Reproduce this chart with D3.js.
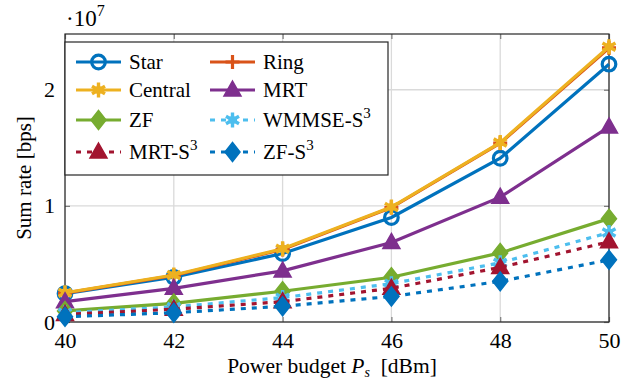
<!DOCTYPE html>
<html>
<head>
<meta charset="utf-8">
<script src="https://cdn.jsdelivr.net/npm/d3@7/dist/d3.min.js"></script>
<style>
  html, body { margin: 0; padding: 0; background: #fff; }
  svg { display: block; }
</style>
</head>
<body>
<svg id="chart" width="632" height="379"></svg>
<script>
// Transmit power budget in dBm
const power = [40, 42, 44, 46, 48, 50];

// Sum rate in units of 1e7 bps
const star    = [0.245, 0.385, 0.59, 0.90, 1.41, 2.22];
const ring    = [0.248, 0.400, 0.625, 0.985, 1.54, 2.36];
const central = [0.252, 0.405, 0.63, 0.99, 1.545, 2.37];
const mrt     = [0.175, 0.29, 0.44, 0.685, 1.075, 1.68];
const zf      = [0.095, 0.16, 0.265, 0.385, 0.595, 0.89];
const wmmseS3 = [0.08, 0.13, 0.21, 0.33, 0.51, 0.77];
const mrtS3   = [0.065, 0.11, 0.175, 0.29, 0.47, 0.69];
const zfS3    = [0.045, 0.08, 0.135, 0.22, 0.35, 0.535];

const xTicks = [40, 42, 44, 46, 48, 50];
const yTicks = [0, 1, 2];
const scaleExp = 7;

const SERIF = "'Liberation Serif', 'Times New Roman', Tinos, 'Nimbus Roman', serif";

const series = [
  { name: "Star",     values: star,    color: "#0072BD", marker: "circle",   dashed: false },
  { name: "Ring",     values: ring,    color: "#D95319", marker: "plus",     dashed: false },
  { name: "Central",  values: central, color: "#EDB120", marker: "asterisk", dashed: false },
  { name: "MRT",      values: mrt,     color: "#7E2F8E", marker: "triangle", dashed: false },
  { name: "ZF",       values: zf,      color: "#77AC30", marker: "diamond",  dashed: false },
  { name: "WMMSE-S",  sup: "3", values: wmmseS3, color: "#4DBEEE", marker: "asterisk", dashed: true },
  { name: "MRT-S",    sup: "3", values: mrtS3,   color: "#A2142F", marker: "triangle", dashed: true },
  { name: "ZF-S",     sup: "3", values: zfS3,    color: "#0072BD", marker: "diamond",  dashed: true }
];

const svg = d3.select("#chart");
const m = { left: 65, right: 609, top: 34, bottom: 322 };

const x = d3.scaleLinear().domain([40, 50]).range([m.left, m.right]);
const y = d3.scaleLinear().domain([0, 2.48]).range([m.bottom, m.top]);

// grid
const grid = svg.append("g");
grid.selectAll(".gx").data(xTicks).join("line")
  .attr("x1", d => x(d)).attr("x2", d => x(d))
  .attr("y1", m.top).attr("y2", m.bottom)
  .attr("stroke", "#dadada").attr("stroke-width", 1.3);
grid.selectAll(".gy").data(yTicks).join("line")
  .attr("x1", m.left).attr("x2", m.right)
  .attr("y1", d => y(d)).attr("y2", d => y(d))
  .attr("stroke", "#dadada").attr("stroke-width", 1.3);

// axes with inward ticks
const xAxisB = d3.axisBottom(x).tickValues(xTicks).tickSizeInner(-5).tickSizeOuter(0).tickPadding(10);
const xAxisT = d3.axisTop(x).tickValues(xTicks).tickSizeInner(-5).tickSizeOuter(0).tickFormat("");
const yAxisL = d3.axisLeft(y).tickValues(yTicks).tickSizeInner(-5).tickSizeOuter(0).tickPadding(10).tickFormat(d3.format("d"));
const yAxisR = d3.axisRight(y).tickValues(yTicks).tickSizeInner(-5).tickSizeOuter(0).tickFormat("");

function styleAxis(g) {
  g.attr("font-family", null).attr("font-size", null);
  g.select(".domain").remove();
  g.selectAll(".tick line").attr("stroke", "#7a7a7a").attr("stroke-width", 1.2);
  g.selectAll(".tick text")
    .attr("font-family", SERIF).attr("font-size", 22).attr("fill", "#000");
}
svg.append("g").attr("transform", `translate(0,${m.bottom})`).call(xAxisB).call(styleAxis);
svg.append("g").attr("transform", `translate(0,${m.top})`).call(xAxisT).call(styleAxis);
svg.append("g").attr("transform", `translate(${m.left},0)`).call(yAxisL).call(styleAxis);
svg.append("g").attr("transform", `translate(${m.right},0)`).call(yAxisR).call(styleAxis);

// frame
svg.append("rect")
  .attr("x", m.left).attr("y", m.top)
  .attr("width", m.right - m.left).attr("height", m.bottom - m.top)
  .attr("fill", "none").attr("stroke", "#262626").attr("stroke-width", 1.2);

// marker drawing
function drawMarker(g, type, color, cx, cy) {
  const mk = g.append("g").attr("transform", `translate(${cx},${cy})`);
  if (type === "circle") {
    mk.append("circle").attr("r", 6.8).attr("fill", "none").attr("stroke", color).attr("stroke-width", 3.2);
  } else if (type === "plus") {
    mk.append("path").attr("d", "M-7,0H7M0,-7V7").attr("stroke", color).attr("stroke-width", 3.2);
  } else if (type === "asterisk") {
    const r = 7.5;
    let d = "";
    [90, 30, 150].forEach(a => {
      const rad = a * Math.PI / 180;
      const dx = r * Math.cos(rad), dy = r * Math.sin(rad);
      d += `M${-dx},${-dy}L${dx},${dy}`;
    });
    mk.append("path").attr("d", d).attr("stroke", color).attr("stroke-width", 3.4);
    mk.append("circle").attr("r", 4).attr("fill", color);
  } else if (type === "triangle") {
    mk.append("path").attr("d", "M0,-9L8.5,6L-8.5,6Z").attr("fill", color).attr("stroke", color).attr("stroke-width", 1.5);
  } else if (type === "diamond") {
    mk.append("path").attr("d", "M0,-9.5L7.5,0L0,9.5L-7.5,0Z").attr("fill", color).attr("stroke", color).attr("stroke-width", 1.5);
  }
}

// series
const line = d3.line().x((d, i) => x(power[i])).y(d => y(d));
const plot = svg.append("g");
series.forEach(s => {
  const g = plot.append("g");
  g.append("path").datum(s.values)
    .attr("d", line)
    .attr("fill", "none")
    .attr("stroke", s.color)
    .attr("stroke-width", 3.2)
    .attr("stroke-dasharray", s.dashed ? "5,6" : null);
  s.values.forEach((v, i) => drawMarker(g, s.marker, s.color, x(power[i]), y(v)));
});

// legend (two columns, filled row by row)
const lg = svg.append("g");
lg.append("rect").attr("x", 65).attr("y", 42).attr("width", 323).attr("height", 133)
  .attr("fill", "#fff").attr("stroke", "#262626").attr("stroke-width", 1.2);
const legendRows = [62, 90, 120, 152];
const legendCols = [76, 210];
const legendOrder = ["Star", "Ring", "Central", "MRT", "ZF", "WMMSE-S", "MRT-S", "ZF-S"];
series.forEach(s => {
  const k = legendOrder.indexOf(s.name);
  const row = Math.floor(k / 2), col = k % 2;
  const lx = legendCols[col], ly = legendRows[row];
  const g = lg.append("g");
  g.append("line").attr("x1", lx).attr("x2", lx + 45).attr("y1", ly).attr("y2", ly)
    .attr("stroke", s.color).attr("stroke-width", 3.2)
    .attr("stroke-dasharray", s.dashed ? "5,6" : null);
  drawMarker(g, s.marker, s.color, lx + 22.5, ly);
  const t = g.append("text").attr("x", lx + 53).attr("y", ly + 7)
    .attr("font-family", SERIF).attr("font-size", 21).text(s.name);
  if (s.sup) {
    t.append("tspan").attr("dy", -9).attr("font-size", 15).text(s.sup);
  }
});

// axis labels
svg.append("text")
  .attr("transform", `translate(31,178) rotate(-90)`)
  .attr("text-anchor", "middle")
  .attr("font-family", SERIF).attr("font-size", 21)
  .text("Sum rate [bps]");

const xl = svg.append("text")
  .attr("x", 332).attr("y", 373)
  .attr("text-anchor", "middle")
  .attr("font-family", SERIF).attr("font-size", 21.5);
xl.append("tspan").text("Power budget ");
xl.append("tspan").attr("font-style", "italic").text("P");
xl.append("tspan").attr("dy", 4).attr("font-style", "italic").attr("font-size", 14).text("s");
xl.append("tspan").attr("dy", -4).text("\u2002[dBm]");

// exponent
const ex = svg.append("text").attr("x", 66).attr("y", 26)
  .attr("font-family", SERIF).attr("font-size", 23);
ex.append("tspan").text("\u00B710");
ex.append("tspan").attr("dy", -10).attr("font-size", 16).text(scaleExp);
</script>
</body>
</html>
